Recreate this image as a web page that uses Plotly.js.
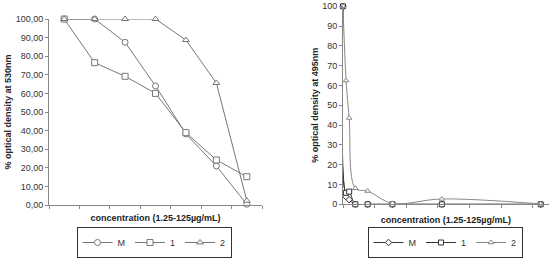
<!DOCTYPE html>
<html>
<head>
<meta charset="utf-8">
<script src="https://cdn.plot.ly/plotly-3.0.1.min.js"></script>
<style>html,body{margin:0;padding:0;background:#fff}#chart{width:550px;height:258px}</style>
</head>
<body>
<div id="chart"></div>
<script>
// Left chart (530 nm): 7 concentration steps (categorical)
var leftCategories = ['c1', 'c2', 'c3', 'c4', 'c5', 'c6', 'c7'];
var leftM = [100, 100, 87.5, 64, 38.2, 21, 0.4];
var left1 = [100, 76.5, 69.2, 60, 38.9, 24.2, 15.2];
var left2 = [100, 100, 100, 100, 88.7, 65.6, 2.3];

// Right chart (495 nm): concentration (µg/mL)
var rightConc = [0, 1.95, 3.9, 7.8, 15.6, 31.25, 62.5, 125];
var rightM = [100, 3.8, 2.3, 0, 0, 0, 0, 0];
var right1 = [100, 5.8, 6.4, 0, 0, 0, 0, 0];
var right2 = [100, 62.5, 43.6, 8.1, 6.7, 0.5, 2.7, 0.2];

var seriesNames = ['M', '1', '2'];
var leftSymbols = ['circle', 'square', 'triangle-up'];
var rightSymbols = ['diamond', 'square', 'triangle-up'];

var gridFont = {family: 'Liberation Sans, Arial, sans-serif', size: 9, color: '#333'};
var titleFont = {family: 'Liberation Sans, Arial, sans-serif', size: 9, color: '#222', weight: 'bold'};

function mk(x, y, i, sym, xa, ya, lg, col, shape, msize) {
  return {
    x: x, y: y, name: seriesNames[i], type: 'scatter', mode: 'lines+markers',
    xaxis: xa, yaxis: ya, legend: lg,
    line: {color: col, width: 1, shape: shape},
    marker: {symbol: sym[i], size: msize, color: '#fff', line: {color: col, width: 1}},
    cliponaxis: false
  };
}

var traces = [
  mk(leftCategories, leftM, 0, leftSymbols, 'x', 'y', 'legend', '#777', 'linear', 6),
  mk(leftCategories, left1, 1, leftSymbols, 'x', 'y', 'legend', '#777', 'linear', 6),
  mk(leftCategories, left2, 2, leftSymbols, 'x', 'y', 'legend', '#777', 'linear', 6),
  mk(rightConc, rightM, 0, rightSymbols, 'x2', 'y2', 'legend2', '#333', 'spline', 5),
  mk(rightConc, right1, 1, rightSymbols, 'x2', 'y2', 'legend2', '#333', 'spline', 5),
  mk(rightConc, right2, 2, rightSymbols, 'x2', 'y2', 'legend2', '#888', 'spline', 5)
];

var axisBase = {showgrid: false, zeroline: false, showline: true, linecolor: '#888', linewidth: 1,
  ticks: 'outside', ticklen: 3, tickcolor: '#888', tickfont: gridFont, automargin: false, fixedrange: true};

var legendBase = {orientation: 'h', yanchor: 'bottom', y: 0, xanchor: 'center',
  bordercolor: '#333', borderwidth: 1, bgcolor: '#fff', font: gridFont, itemwidth: 30,
  tracegroupgap: 0};

var layout = {
  width: 550, height: 258,
  margin: {l: 0, r: 0, t: 0, b: 0, autoexpand: false},
  paper_bgcolor: '#fff', plot_bgcolor: '#fff',
  separators: ',.',
  showlegend: true,
  xaxis: Object.assign({}, axisBase, {
    domain: [49/550, 262/550], type: 'category', categoryarray: leftCategories,
    range: [-0.5, 6.5], showticklabels: false, tickson: 'boundaries', anchor: 'y',
    title: {text: 'concentration (1.25-125µg/mL)', font: titleFont, standoff: 9}
  }),
  yaxis: Object.assign({}, axisBase, {
    domain: [(258-205)/258, (258-19)/258], range: [0, 100], dtick: 10, tickformat: '.2f', anchor: 'x',
    title: {text: '% optical density at 530nm', font: titleFont, standoff: 2}
  }),
  xaxis2: Object.assign({}, axisBase, {
    domain: [343/550, 548.6/550], range: [0, 130], dtick: 20, showticklabels: false, anchor: 'y2',
    title: {text: 'concentration (1.25-125µg/mL)', font: titleFont, standoff: 9}
  }),
  yaxis2: Object.assign({}, axisBase, {
    domain: [(258-204.3)/258, (258-6.3)/258], range: [0, 100], dtick: 10, anchor: 'x2',
    title: {text: '% optical density at 495nm', font: titleFont, standoff: 2}
  }),
  legend: Object.assign({}, legendBase, {x: 154/550}),
  legend2: Object.assign({}, legendBase, {x: 445/550})
};

Plotly.newPlot('chart', traces, layout, {displayModeBar: false, staticPlot: true});
</script>
</body>
</html>
